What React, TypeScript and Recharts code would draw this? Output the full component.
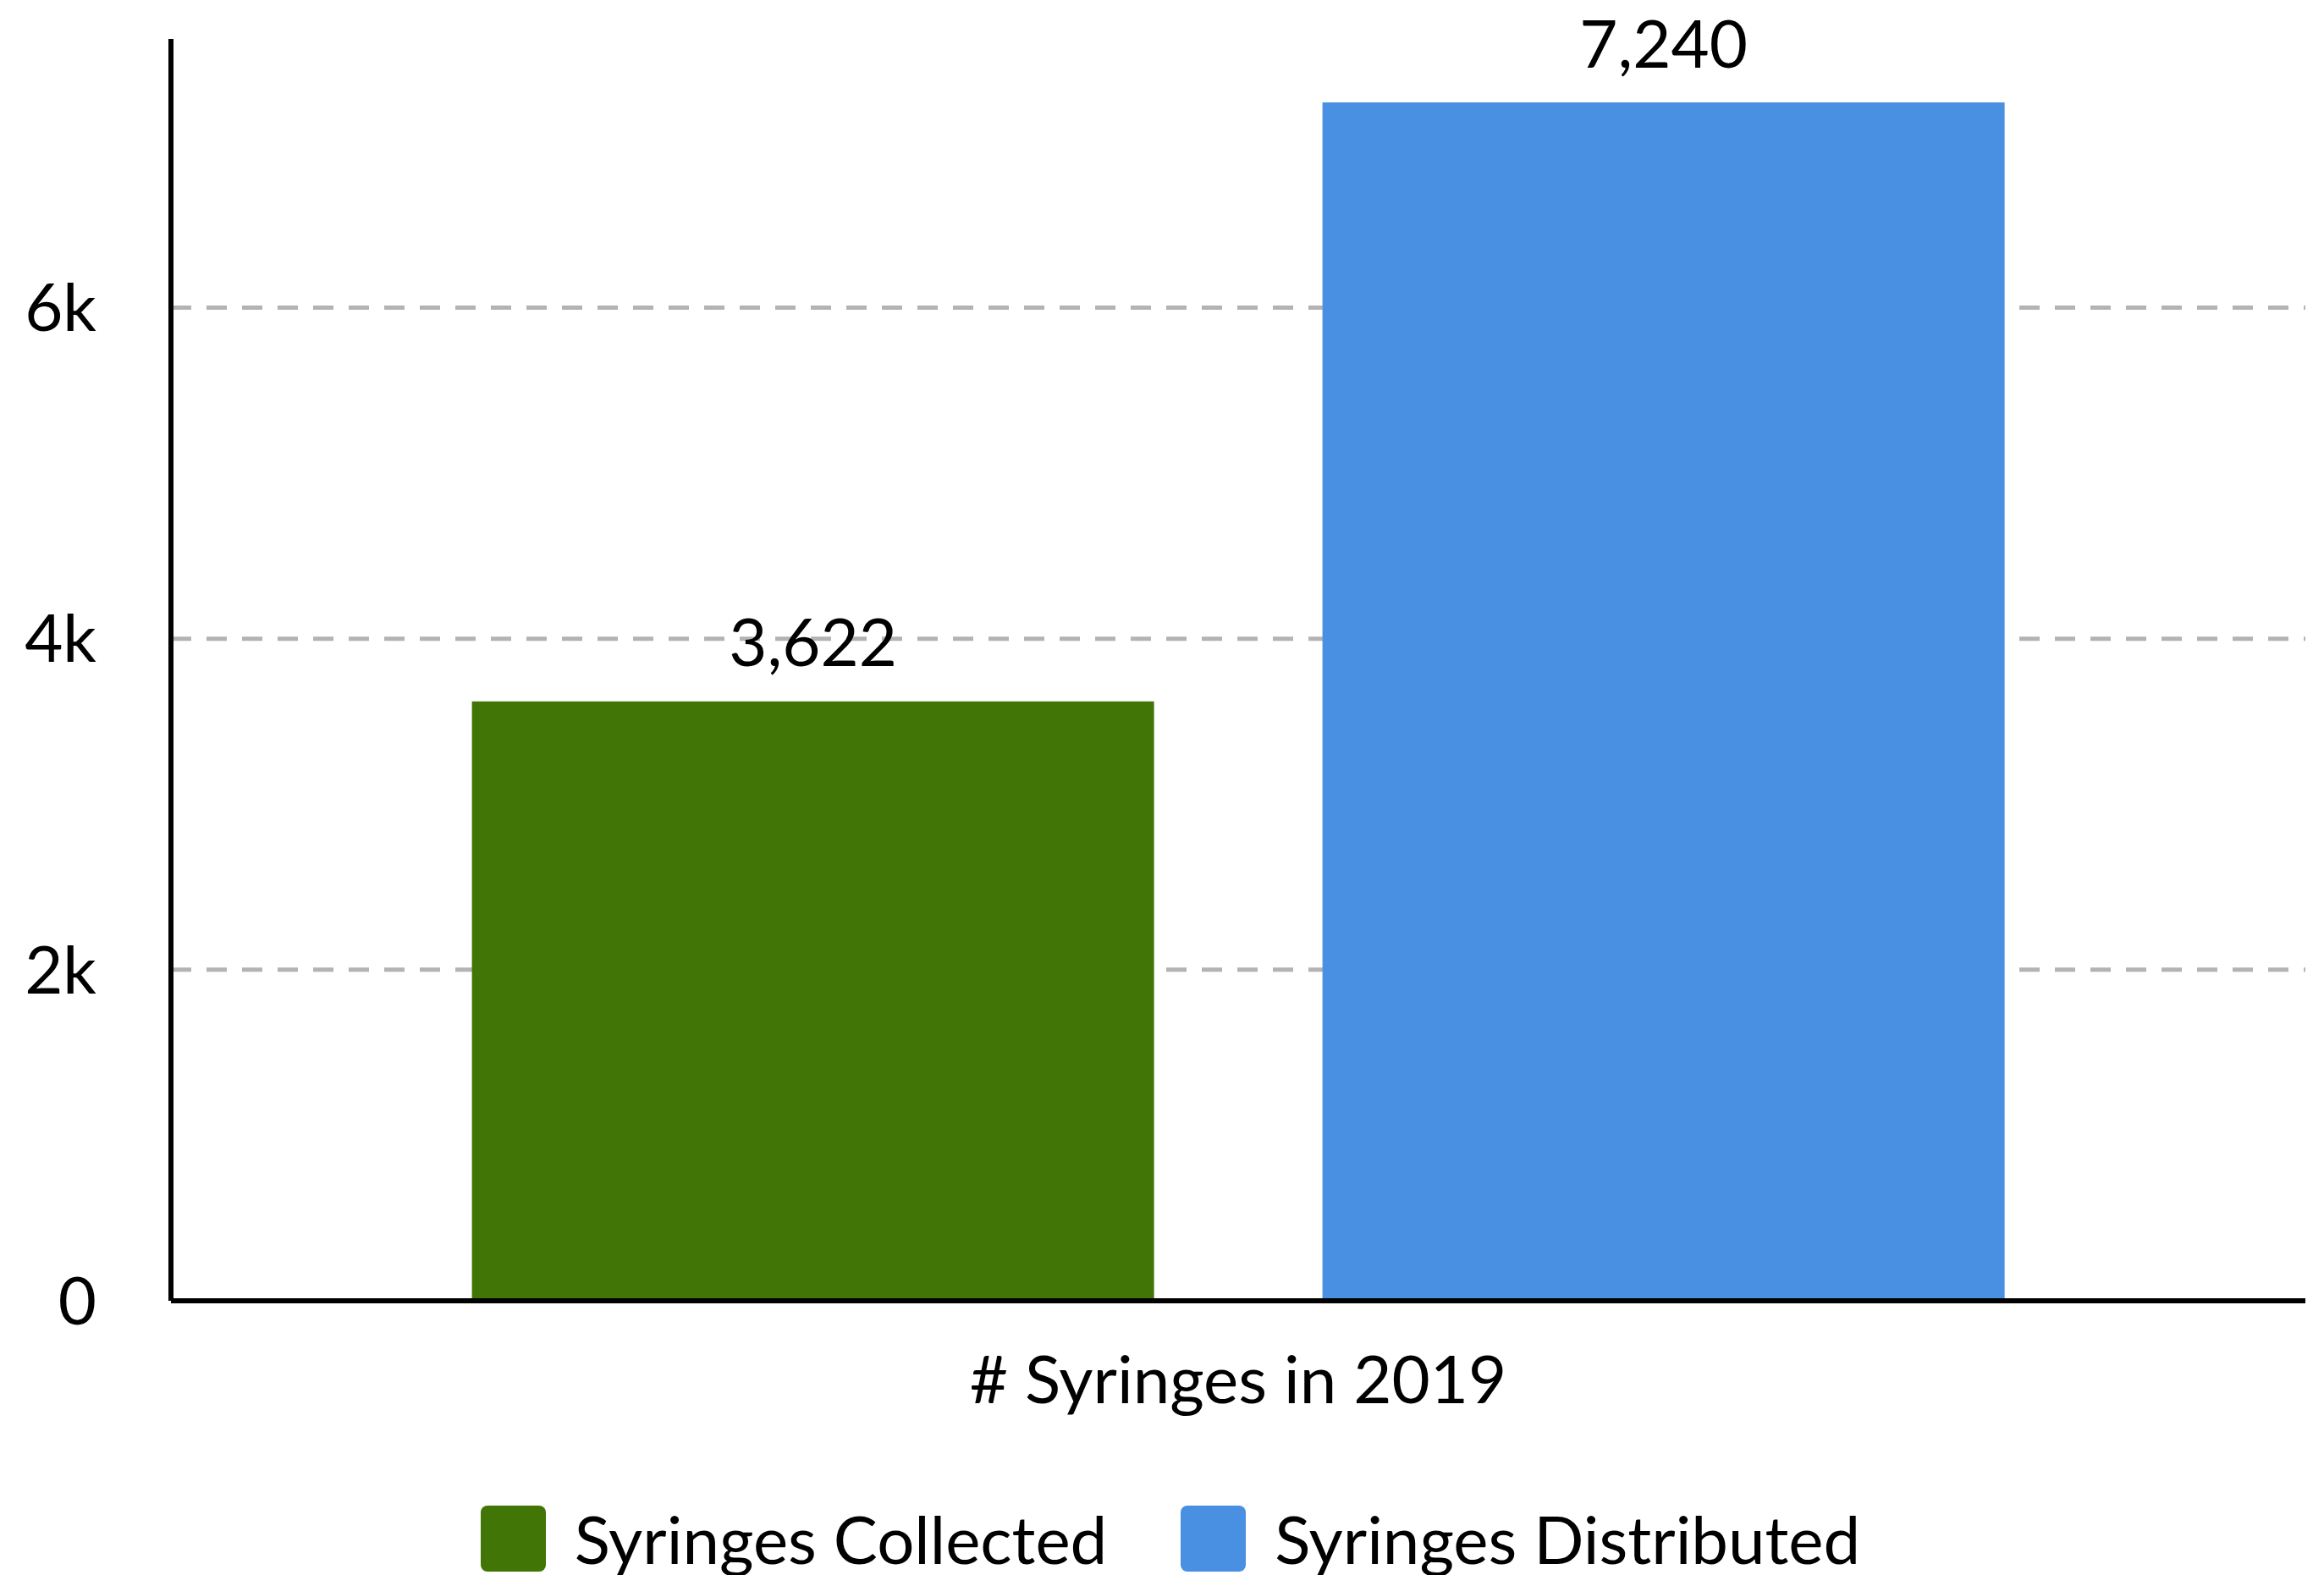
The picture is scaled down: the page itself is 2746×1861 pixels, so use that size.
import React from 'react';
import { BarChart, Bar, XAxis, YAxis, CartesianGrid, Legend, LabelList } from 'recharts';

const categories = ['# Syringes in 2019'];
const collectedValues = [3622];
const distributedValues = [7240];
const yTicks = [0, 2000, 4000, 6000];
const yTickLabels = ['0', '2k', '4k', '6k'];

const seriesNames = ['Syringes Collected', 'Syringes Distributed'];
const seriesColors = ['#417505', '#4a90e2'];

const data = categories.map((name, i) => ({
  name,
  collected: collectedValues[i],
  distributed: distributedValues[i],
}));

const FONT = 'Lato, "Noto Sans", sans-serif';
const FS = 78;

const fmtTick = (v: number) => {
  const i = yTicks.indexOf(v);
  return i >= 0 ? yTickLabels[i] : String(v);
};

const fmtValue = (v: any) => Number(v).toLocaleString('en-US');

const LegendContent = () => (
  <div
    style={{
      display: 'flex',
      justifyContent: 'center',
      alignItems: 'center',
      height: 124,
      boxSizing: 'border-box',
      paddingTop: 37,
      paddingLeft: 20,
      fontFamily: FONT,
      fontSize: FS,
      color: '#000',
    }}
  >
    {seriesNames.map((n, i) => (
      <div key={n} style={{ display: 'flex', alignItems: 'center', marginRight: i === 0 ? 87 : 0 }}>
        <div
          style={{
            width: 77,
            height: 78,
            borderRadius: 8,
            background: seriesColors[i],
            marginRight: 34,
          }}
        />
        <span style={{ lineHeight: '78px', whiteSpace: 'nowrap' }}>{n}</span>
      </div>
    ))}
  </div>
);

export default function App() {
  return (
    <div style={{ position: 'absolute', left: 0, top: 0, width: 2746, height: 1861, background: '#fff' }}>
      <BarChart
        width={2746}
        height={1861}
        data={data}
        margin={{ top: 46, right: 22, bottom: 0, left: 0 }}
        barCategoryGap="14.1%"
        barGap={199}
      >
        <CartesianGrid
          vertical={false}
          horizontal={true}
          horizontalValues={[2000, 4000, 6000]}
          stroke="#b3b3b3"
          strokeWidth={5}
          strokeDasharray="24 18"
        />
        <XAxis
          dataKey="name"
          height={200}
          tickLine={false}
          tickSize={0}
          tickMargin={66}
          axisLine={{ stroke: '#000', strokeWidth: 6 }}
          tick={{ fill: '#000', fontSize: FS, fontFamily: FONT }}
        />
        <YAxis
          width={202}
          ticks={yTicks}
          domain={[0, (dataMax: number) => dataMax * 1.053]}
          tickFormatter={fmtTick}
          tickLine={false}
          tickSize={0}
          tickMargin={88}
          axisLine={{ stroke: '#000', strokeWidth: 6 }}
          tick={{ fill: '#000', fontSize: FS, fontFamily: FONT }}
        />
        <Legend verticalAlign="bottom" height={124} content={<LegendContent />} wrapperStyle={{ left: 0, width: 2746 }} />
        <Bar dataKey="collected" name={seriesNames[0]} fill={seriesColors[0]} isAnimationActive={false}>
          <LabelList
            dataKey="collected"
            position="top"
            offset={42}
            formatter={fmtValue}
            style={{ fill: '#000', fontSize: FS, fontFamily: FONT }}
          />
        </Bar>
        <Bar dataKey="distributed" name={seriesNames[1]} fill={seriesColors[1]} isAnimationActive={false}>
          <LabelList
            dataKey="distributed"
            position="top"
            offset={41}
            formatter={fmtValue}
            style={{ fill: '#000', fontSize: FS, fontFamily: FONT }}
          />
        </Bar>
      </BarChart>
    </div>
  );
}
